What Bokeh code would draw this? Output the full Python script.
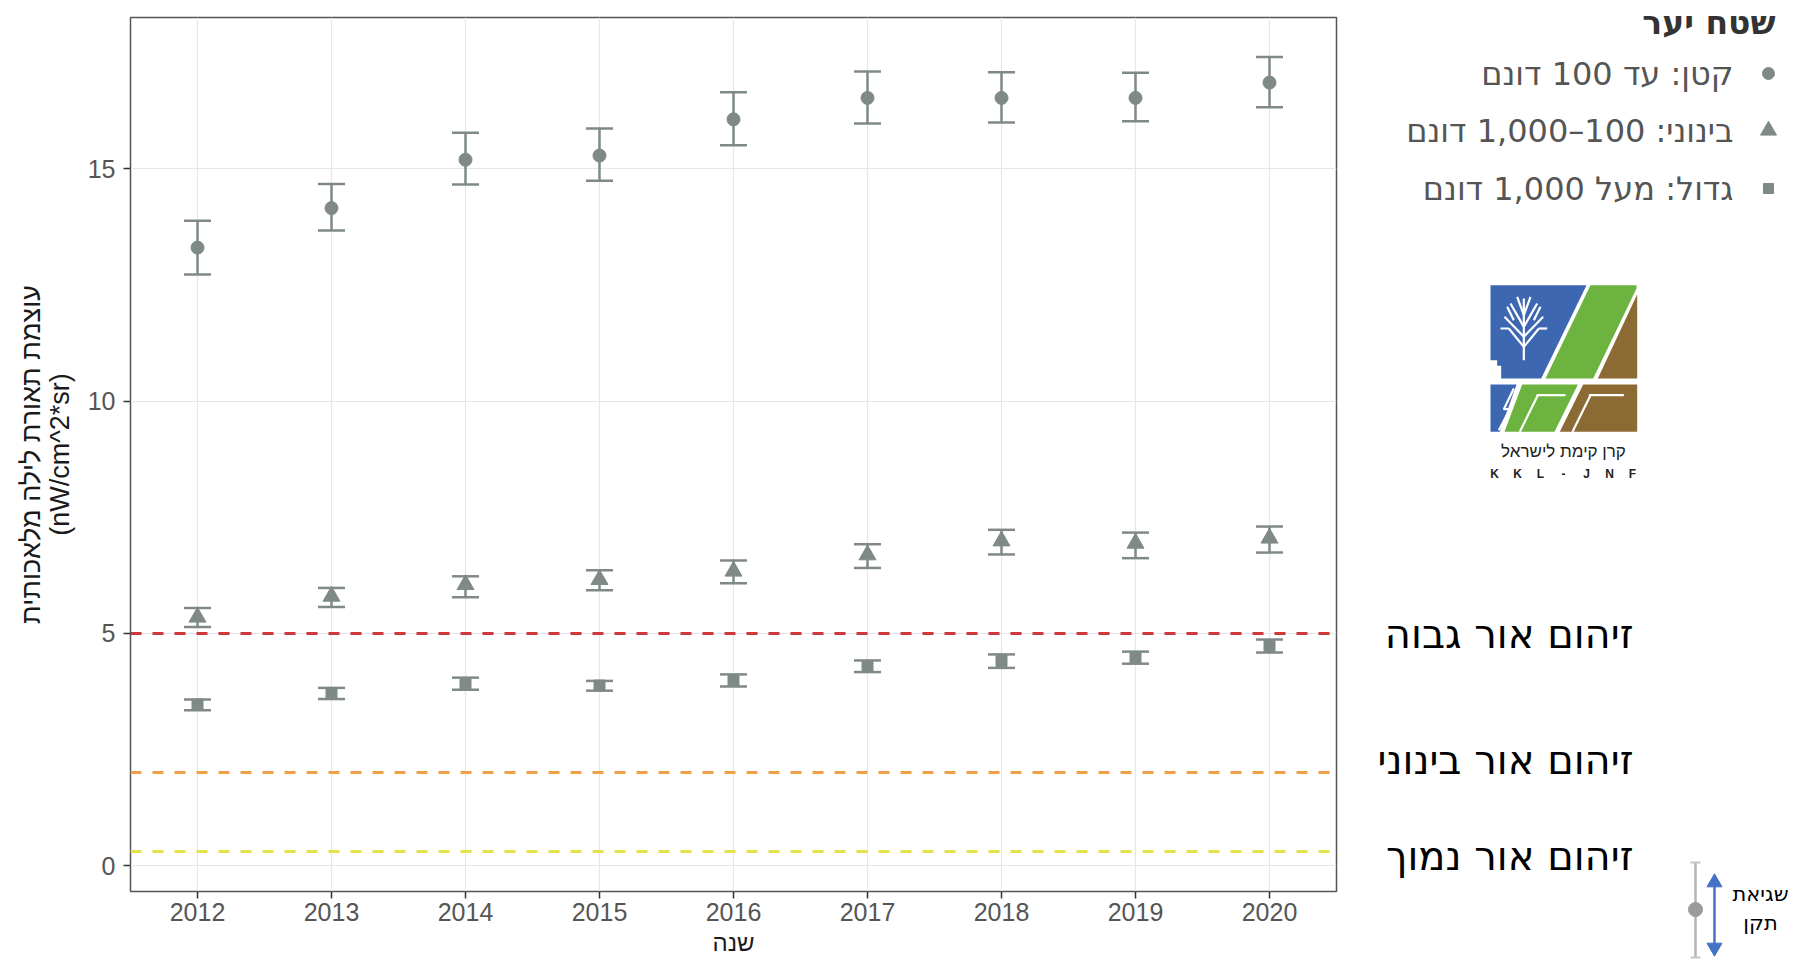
import numpy as np
from bokeh.plotting import figure
from bokeh.models import ColumnDataSource, Range1d, FixedTicker, Whisker, TeeHead, LinearAxis
from bokeh.core.properties import value
from bokeh.embed import file_html
from bokeh.resources import INLINE

# ---------------- data ----------------
years = [2012, 2013, 2014, 2015, 2016, 2017, 2018, 2019, 2020]

small_mean = [13.30, 14.15, 15.19, 15.28, 16.06, 16.52, 16.52, 16.52, 16.85]
small_lo = [12.72, 13.67, 14.66, 14.74, 15.50, 15.97, 15.99, 16.02, 16.32]
small_hi = [13.88, 14.67, 15.77, 15.86, 16.64, 17.09, 17.07, 17.06, 17.40]

medium_mean = [5.35, 5.80, 6.05, 6.16, 6.34, 6.69, 6.99, 6.94, 7.05]
medium_lo = [5.14, 5.57, 5.78, 5.93, 6.08, 6.41, 6.70, 6.62, 6.74]
medium_hi = [5.55, 5.98, 6.23, 6.36, 6.57, 6.92, 7.23, 7.17, 7.30]

large_mean = [3.47, 3.70, 3.92, 3.88, 3.98, 4.30, 4.41, 4.48, 4.73]
large_lo = [3.35, 3.59, 3.79, 3.77, 3.86, 4.17, 4.26, 4.35, 4.59]
large_hi = [3.58, 3.83, 4.05, 3.98, 4.12, 4.42, 4.55, 4.61, 4.87]

y_ticks = [0, 5, 10, 15]

thresholds = [5, 2, 0.3]
threshold_labels = ["זיהום אור גבוה", "זיהום אור בינוני", "זיהום אור נמוך"]

legend_title = "שטח יער"
legend_labels = ["קטן: עד 100 דונם", "בינוני: 100–1,000 דונם", "גדול: מעל 1,000 דונם"]
legend_markers = ["circle", "triangle", "square"]

x_title = "שנה"
y_title_1 = "עוצמת תאורת לילה מלאכותית"
y_title_2 = "(nW/cm^2*sr)"
logo_text = "קרן קימת לישראל"
logo_latin = "KKL-JNF"
se_label = ["שגיאת", "תקן"]

# ---------------- styles ----------------
GREY = "#7f8a88"
THR_COLORS = ["#cc383c", "#f0a04a", "#e2e24a"]
THR_OFFSETS = [1, -13, 4]
FONT_NAME = "Liberation Sans"
FONT = value(FONT_NAME)
HEB_FONT = value("DejaVu Sans")
BLUE, GREEN, BROWN = "#3d67b1", "#6cb33f", "#8b6a33"

X0, X1 = 2011.5, 2020.5
Y0, Y1 = -0.55, 18.25
FRAME_W, FRAME_H = 1206, 874
TOP = 17
LEFT = 130
SIDE_W = 454
SIDE_H = 961

# ---------------- main plot ----------------
p = figure(frame_width=FRAME_W, frame_height=FRAME_H,
           x_range=Range1d(X0, X1), y_range=Range1d(Y0, Y1),
           output_backend="svg", toolbar_location=None,
           min_border_left=LEFT, min_border_right=2, min_border_top=TOP, min_border_bottom=0)

p.background_fill_color = "white"
p.outline_line_color = "#555555"
p.outline_line_width = 1.5

p.xaxis.ticker = FixedTicker(ticks=years)
p.yaxis.ticker = FixedTicker(ticks=y_ticks)
p.xgrid.ticker = FixedTicker(ticks=years)
p.ygrid.ticker = FixedTicker(ticks=y_ticks)
p.grid.grid_line_color = "#e6e6e6"
p.grid.grid_line_width = 1.2

for ax in (p.xaxis, p.yaxis):
    ax.axis_line_color = None
    ax.major_tick_line_color = "#333333"
    ax.major_tick_line_width = 1.5
    ax.major_tick_out = 7
    ax.major_tick_in = 0
    ax.minor_tick_line_color = None
    ax.major_label_text_font = FONT_NAME
    ax.major_label_text_font_size = "25px"
    ax.major_label_text_color = "#555555"
    ax.axis_label_text_font = FONT_NAME
    ax.axis_label_text_font_style = "normal"
    ax.axis_label_text_color = "#1a1a1a"

p.xaxis.major_label_standoff = 4
p.xaxis.axis_label = x_title
p.xaxis.axis_label_text_font_size = "24px"
p.xaxis.axis_label_standoff = 5
p.yaxis.major_label_standoff = 8
p.yaxis.axis_label = y_title_2
p.yaxis.axis_label_text_font_size = "27px"
p.yaxis.axis_label_standoff = 10

# outer (second) line of the y title, on a tick-less axis
outer = LinearAxis(ticker=FixedTicker(ticks=[]), axis_label=y_title_1,
                   axis_line_color=None, major_tick_line_color=None, minor_tick_line_color=None,
                   major_tick_out=0, major_label_standoff=0, axis_label_standoff=-4,
                   axis_label_text_font=FONT_NAME, axis_label_text_font_size="27px",
                   axis_label_text_font_style="normal", axis_label_text_color="#1a1a1a")
p.add_layout(outer, "left")

# threshold lines
for t, c in zip(thresholds, THR_COLORS):
    p.hspan(y=[t], line_color=c, line_width=3, line_dash="11 11")

# series
series = [
    (small_mean, small_lo, small_hi, "circle", 13),
    (medium_mean, medium_lo, medium_hi, "triangle", 17),
    (large_mean, large_lo, large_hi, "square", 11),
]
for mean, lo, hi, marker, size in series:
    src = ColumnDataSource(dict(x=years, y=mean, lo=lo, hi=hi))
    w = Whisker(base="x", upper="hi", lower="lo", source=src,
                line_color=GREY, line_width=2.5,
                upper_head=TeeHead(size=27, line_color=GREY, line_width=2.5),
                lower_head=TeeHead(size=27, line_color=GREY, line_width=2.5))
    p.add_layout(w)
    p.scatter("x", "y", source=src, marker=marker, size=size,
              fill_color=GREY, line_color=GREY)

# ---------------- side panel (separate root, same vertical scale) ----------------
ppu = FRAME_H / (Y1 - Y0)
side_hi = Y1 + TOP / ppu
side_lo = side_hi - SIDE_H / ppu

s = figure(width=SIDE_W, height=SIDE_H, x_range=Range1d(0, SIDE_W),
           y_range=Range1d(side_lo, side_hi),
           x_axis_type=None, y_axis_type=None,
           output_backend="svg", toolbar_location=None,
           min_border_left=0, min_border_right=0, min_border_top=0, min_border_bottom=0)
s.outline_line_color = None
s.grid.visible = False
s.extra_y_ranges = {"px": Range1d(SIDE_H, 0)}

# threshold labels aligned with the data scale
s.text(x=[295] * 3, y=thresholds, text=threshold_labels, y_offset=THR_OFFSETS,
       text_align="right", text_baseline="middle", text_font=HEB_FONT,
       text_font_size="40px", text_color="black")

# legend
s.text(x=[437], y=[22], text=[legend_title], y_range_name="px",
       text_align="right", text_baseline="middle", text_font=HEB_FONT,
       text_font_size="33px", text_font_style="bold", text_color="#333333")
leg_y = [73, 130, 188]
s.text(x=[395] * 3, y=leg_y, text=legend_labels, y_range_name="px",
       text_align="right", text_baseline="middle", text_font=HEB_FONT,
       text_font_size="32px", text_color="#555555")
s.scatter(x=[430] * 3, y=leg_y, marker=legend_markers, size=[12, 16, 10],
          fill_color=GREY, line_color=GREY, y_range_name="px")

# logo (drawn in the reference crop coordinates, scaled to pixels)
def lx(v):
    return [142 + a / 3 for a in v]

def ly(v):
    return [278 + a / 3 for a in v]

logo_polys = [
    ([30, 318, 182, 62, 62, 50, 50, 30], [20, 20, 300, 300, 262, 262, 245, 245], BLUE),
    ([330, 468, 468, 338, 195], [20, 20, 30, 300, 300], GREEN),
    ([470, 470, 352], [48, 300, 300], BROWN),
    ([30, 108, 58, 30], [318, 318, 460, 460], BLUE),
    ([125, 292, 222, 72], [318, 318, 460, 460], GREEN),
    ([308, 470, 470, 238], [318, 318, 460, 460], BROWN),
]
s.patches(xs=[lx(a) for a, b, c in logo_polys], ys=[ly(b) for a, b, c in logo_polys],
          fill_color=[c for a, b, c in logo_polys], line_color=None, y_range_name="px")

white_lines = [
    ([100, 70, 88, 55], [330, 392, 392, 455]),
    ([168, 255], [350, 350]), ([172, 118], [350, 460]),
    ([325, 430], [350, 350]), ([330, 276], [350, 460]),
    ([130, 130], [245, 60]),
    ([130, 85], [205, 150]), ([130, 175], [205, 150]),
    ([130, 72], [175, 115]), ([130, 188], [175, 115]),
    ([130, 90], [145, 75]), ([130, 170], [145, 75]),
    ([85, 60], [150, 150]), ([175, 200], [150, 150]),
    ([100, 80], [125, 85]), ([160, 180], [125, 85]),
    ([130, 110], [110, 55]), ([130, 150], [110, 55]),
]
s.multi_line(xs=[lx(a) for a, b in white_lines], ys=[ly(b) for a, b in white_lines],
             line_color="white", line_width=2.2, y_range_name="px")

s.text(x=[225], y=[451], text=[logo_text], y_range_name="px", text_align="center",
       text_baseline="middle", text_font=FONT, text_font_size="17px", text_color="#222222")
letters = list(logo_latin)
s.text(x=list(np.linspace(156, 294, len(letters))), y=[473] * len(letters), text=letters,
       y_range_name="px", text_align="center", text_baseline="middle", text_font=FONT,
       text_font_size="12px", text_font_style="bold", text_color="#222222")

# standard error sketch
s.segment(x0=[357], y0=[862], x1=[357], y1=[957], line_color="#b5b5b5", line_width=2.5, y_range_name="px")
s.segment(x0=[352, 352], y0=[862, 957], x1=[362, 362], y1=[862, 957], line_color="#c5c5c5",
          line_width=2, y_range_name="px")
s.scatter(x=[357], y=[909], size=14, fill_color="#9a9a9a", line_color="#9a9a9a", y_range_name="px")
s.segment(x0=[376], y0=[884], x1=[376], y1=[945], line_color="#4472c4", line_width=2.5, y_range_name="px")
s.scatter(x=[376, 376], y=[882, 947], marker=["triangle", "inverted_triangle"], size=15,
          fill_color="#4472c4", line_color="#4472c4", y_range_name="px")
s.text(x=[422, 422], y=[893, 922], text=se_label, y_range_name="px", text_align="center",
       text_baseline="middle", text_font=HEB_FONT, text_font_size="21px", text_color="black")

html = file_html([p, s], INLINE)
html = html.replace(
    "</head>",
    "<style>body{display:flex !important;flex-direction:row;align-items:flex-start;margin:0;}</style></head>",
    1)
open("out.html", "w").write(html)
